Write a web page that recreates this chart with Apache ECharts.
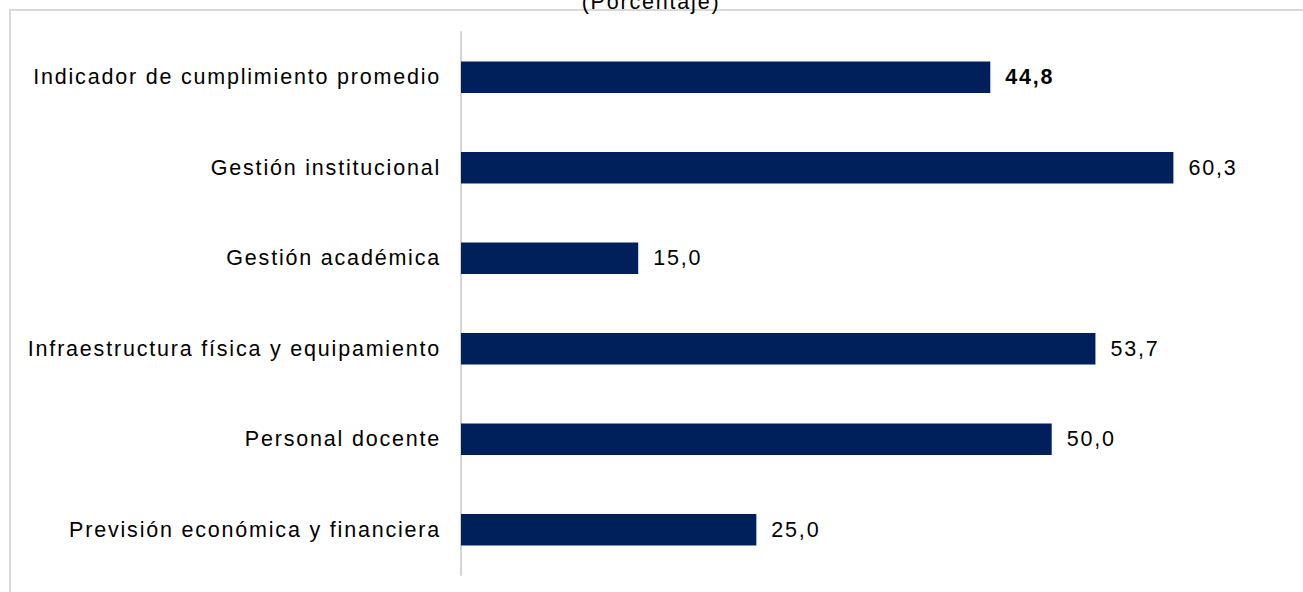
<!DOCTYPE html>
<html><head><meta charset="utf-8">
<script src="https://cdn.jsdelivr.net/npm/echarts@6/dist/echarts.min.js"></script>
<style>html,body{margin:0;padding:0;background:#fff}#c{width:1303px;height:592px}
#c text{letter-spacing:1.8px !important}</style>
</head><body><div id="c"></div>
<script>
const categories = [
  "Indicador de cumplimiento promedio",
  "Gestión institucional",
  "Gestión académica",
  "Infraestructura física y equipamiento",
  "Personal docente",
  "Previsión económica y financiera"
];
const values = [44.8, 60.3, 15.0, 53.7, 50.0, 25.0];
const titleText = "(Porcentaje)";

const FONT = '"Liberation Sans", Arial, sans-serif';
const chart = echarts.init(document.getElementById('c'), null, {renderer: 'svg'});
const fmt = v => v.toFixed(1).replace('.', ',');
chart.setOption({
  animation: false,
  grid: {left: 461, right: 15, top: 32, bottom: 17, containLabel: false},
  graphic: [
    {type: 'rect', shape: {x: 10, y: 10, width: 1400, height: 700}, style: {fill: 'none', stroke: '#d9d9d9', lineWidth: 2}, silent: true},
    {type: 'text', x: 651, y: 13, style: {text: titleText, font: '21.5px ' + FONT, fill: '#000', align: 'center', verticalAlign: 'bottom'}}
  ],
  xAxis: {type: 'value', min: 0, max: 70, show: false},
  yAxis: {
    type: 'category', inverse: true, data: categories,
    axisLine: {show: true, lineStyle: {color: '#d4d4d4', width: 2}},
    axisTick: {show: false}, splitLine: {show: false},
    axisLabel: {margin: 20, color: '#000', fontSize: 21.5, fontFamily: FONT}
  },
  series: [{
    type: 'bar', barWidth: '35%',
    data: values.map((v, i) => ({value: v, label: i === 0 ? {fontWeight: 'bold'} : {}})),
    itemStyle: {color: '#00205b'},
    label: {show: true, position: 'right', distance: 15, color: '#000', fontSize: 21.5,
      fontFamily: FONT, formatter: p => fmt(p.value)}
  }]
});
</script></body></html>
